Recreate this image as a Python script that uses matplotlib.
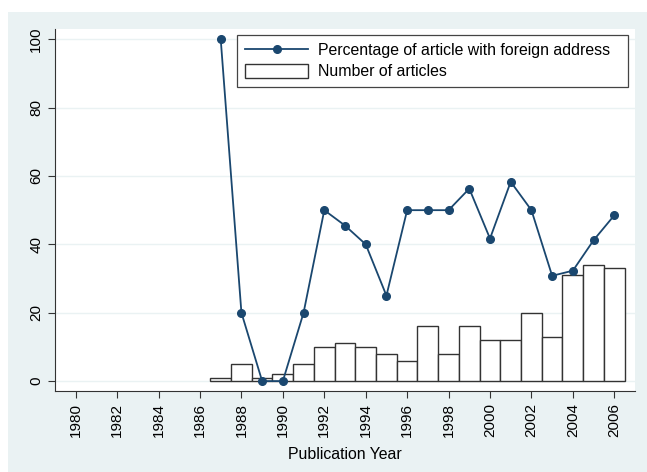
import matplotlib as mpl
mpl.use('Agg')
import matplotlib.pyplot as plt
from matplotlib.patches import Rectangle
import numpy as np

mpl.rcParams['font.family'] = ['Liberation Sans', 'DejaVu Sans']

years = list(range(1987, 2007))
pct_foreign = [100, 20, 0, 0, 20, 50, 45.5, 40, 25, 50, 50, 50, 56.3, 41.7,
               58.3, 50, 30.8, 32.3, 41.2, 48.5]
n_articles = [1, 5, 1, 2, 5, 10, 11, 10, 8, 6, 16, 8, 16, 12, 12, 20, 13, 31, 34, 33]
xticks = list(range(1980, 2007, 2))
yticks = [0, 20, 40, 60, 80, 100]

panel = '#eaf2f3'
navy = '#1a476f'

fig = plt.figure(figsize=(6.47, 4.72), dpi=100)
fig.patches.append(Rectangle((8 / 647, 0), 1, 1 - 12 / 472, transform=fig.transFigure,
                             facecolor=panel, edgecolor='none', zorder=-10))
ax = fig.add_axes([55 / 647, 1 - 391 / 472, 580 / 647, 362 / 472])
ax.set_facecolor('white')

for y in yticks:
    ax.axhline(y, color=panel, lw=1, zorder=0)

bars = ax.bar(years, n_articles, width=1.0, color='white', edgecolor='#333333', lw=1.0,
              label='Number of articles', zorder=2)
line, = ax.plot(years, pct_foreign, color=navy, lw=1.3, marker='o', ms=5.5,
                label='Percentage of article with foreign address', zorder=3, clip_on=False)

ax.set_xlim(1979, 2007)
ax.set_ylim(-2.9, 103)
ax.set_xticks(xticks)
ax.set_xticklabels([str(x) for x in xticks], rotation=90, fontsize=11)
ax.set_yticks(yticks)
ax.set_yticklabels([str(y) for y in yticks], rotation=90, va='center', fontsize=11)
ax.tick_params(direction='out', length=5, color='#333333', width=0.8)
ax.set_xlabel('Publication Year', fontsize=11.4, labelpad=7)

for s in ['top', 'right']:
    ax.spines[s].set_visible(False)
for s in ['left', 'bottom']:
    ax.spines[s].set_color('#333333')

leg = ax.legend([line, bars], [line.get_label(), 'Number of articles'],
                loc='upper left', bbox_to_anchor=(0.3138, 0.8394, 0.674, 0.1436),
                mode='expand', borderaxespad=0, fontsize=11.4,
                handlelength=4.0, handleheight=0.9, handletextpad=0.6,
                fancybox=False, framealpha=1, edgecolor='#444444',
                labelspacing=0.4, borderpad=0.5)
leg.get_frame().set_linewidth(0.9)

plt.savefig('out.png', dpi=100)
